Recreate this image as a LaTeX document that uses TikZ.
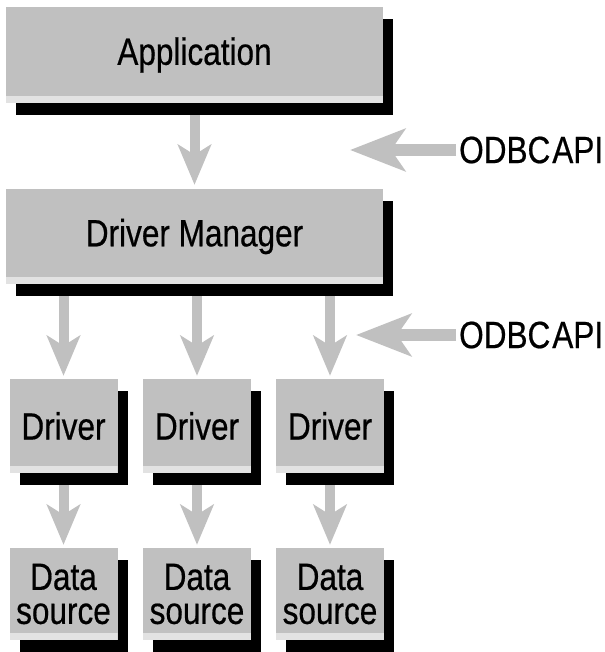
\documentclass[tikz,border=0pt]{standalone}
\usepackage{fontspec}
\setmainfont[FakeStretch=0.83, FakeBold=0.5]{Liberation Sans}
\usepackage{tikz}
\usetikzlibrary{arrows.meta}
\usetikzlibrary{shadows}
\definecolor{boxgray}{RGB}{192,192,192}
\definecolor{dotgray}{RGB}{226,226,226}

\tikzset{
	box/.style = {fill=boxgray, inner sep=0pt, align=center,
		font=\fontsize{38pt}{34pt}\selectfont,
		drop shadow={shadow xshift=10pt, shadow yshift=-12pt, fill=black, opacity=1},
		path picture={\fill[dotgray] (path picture bounding box.south west)
			rectangle ([yshift=7pt]path picture bounding box.south east);}},
	flow/.style = {color=boxgray, line width=10pt,
		-{Stealth[length=40pt, width=33pt, inset=10pt]}},
	apiflow/.style = {color=boxgray, line width=12pt,
		-{Stealth[length=55pt, width=42pt, inset=14pt]}},
	apilabel/.style = {inner sep=0pt, anchor=west, font=\fontsize{38pt}{34pt}\selectfont}
}

\begin{document}
\begin{tikzpicture}[x=1pt, y=1pt]
	\useasboundingbox (0,0) rectangle (604,-652);

	\node[box, minimum width=377pt, minimum height=96pt] (app) at (194.5,-55) {Application};
	\node[box, minimum width=377pt, minimum height=95pt] (dm) at (194.5,-236.5) {Driver Manager};

	\foreach \i/\x in {1/63.5, 2/197, 3/330}
	{
		\node[box, minimum width=108pt, minimum height=94pt] (drv\i) at (\x,-426) {Driver};
		\node[box, minimum width=108pt, minimum height=92pt] (src\i) at (\x,-594) {Data\\source};
	}

	\draw[flow, shorten <=12pt, shorten >=4pt] (app) -- (dm);
	\foreach \i in {1, 2, 3}
	{
		\draw[flow, shorten <=12pt, shorten >=3pt] (dm.south -| drv\i) -- (drv\i);
		\draw[flow, shorten <=12pt, shorten >=3pt] (drv\i) -- (src\i);
	}

	\node[apilabel] (api1) at (459,-150) {ODBC\hspace{2pt}API};
	\coordinate (tip1) at (350,-150);
	\node[apilabel] (api2) at (459,-335) {ODBC\hspace{2pt}API};
	\coordinate (tip2) at (356,-335);
	\draw[apiflow, shorten <=3pt] (api1.west) -- (tip1);
	\draw[apiflow, shorten <=3pt] (api2.west) -- (tip2);
\end{tikzpicture}
\end{document}
